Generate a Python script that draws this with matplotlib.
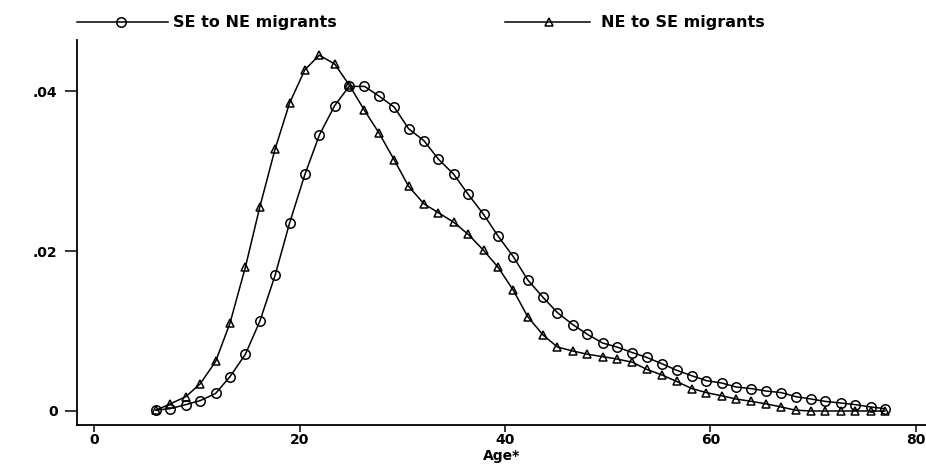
import matplotlib
matplotlib.use("Agg")
import matplotlib.pyplot as plt
from matplotlib.lines import Line2D

# Age* values (x) shared by both series
ages = [6.0, 7.4, 8.9, 10.3, 11.8, 13.2, 14.7, 16.1, 17.6, 19.0,
        20.5, 21.9, 23.4, 24.8, 26.3, 27.7, 29.2, 30.6, 32.1, 33.5,
        35.0, 36.4, 37.9, 39.3, 40.8, 42.2, 43.7, 45.1, 46.6, 48.0,
        49.5, 50.9, 52.4, 53.8, 55.3, 56.7, 58.2, 59.6, 61.1, 62.5,
        64.0, 65.4, 66.9, 68.3, 69.8, 71.2, 72.7, 74.1, 75.6, 77.0]

se_to_ne = [0.0001, 0.0003, 0.0008, 0.0013, 0.0022, 0.0043, 0.0071, 0.0112, 0.0170, 0.0235,
            0.0296, 0.0345, 0.0382, 0.0406, 0.0406, 0.0394, 0.0380, 0.0353, 0.0338, 0.0315,
            0.0296, 0.0271, 0.0246, 0.0219, 0.0193, 0.0164, 0.0142, 0.0123, 0.0108, 0.0096,
            0.0085, 0.0080, 0.0073, 0.0067, 0.0059, 0.0051, 0.0044, 0.0038, 0.0035, 0.0030,
            0.0028, 0.0025, 0.0023, 0.0018, 0.0015, 0.0012, 0.0010, 0.0008, 0.0005, 0.0003]

ne_to_se = [0.0001, 0.0009, 0.0018, 0.0034, 0.0062, 0.0110, 0.0180, 0.0255, 0.0328, 0.0385,
            0.0427, 0.0445, 0.0434, 0.0408, 0.0376, 0.0348, 0.0314, 0.0281, 0.0259, 0.0248,
            0.0236, 0.0221, 0.0201, 0.0180, 0.0151, 0.0118, 0.0095, 0.0080, 0.0075, 0.0071,
            0.0068, 0.0065, 0.0061, 0.0052, 0.0045, 0.0037, 0.0028, 0.0023, 0.0019, 0.0015,
            0.0012, 0.0009, 0.0005, 0.0001, 0.0000, 0.0000, 0.0000, 0.0000, 0.0000, 0.0000]

series_labels = ["SE to NE migrants", "NE to SE migrants"]
x_ticks = [0, 20, 40, 60, 80]
x_ticklabels = ["0", "20", "40", "60", "80"]
y_ticks = [0, 0.02, 0.04]
y_ticklabels = ["0", ".02", ".04"]
x_label = "Age*"

plt.rcParams['font.family'] = ['DejaVu Sans']
plt.rcParams['font.weight'] = 'bold'

fig = plt.figure(figsize=(9.26, 4.68), dpi=100)
ax = fig.add_axes([0.0832, 0.0919, 0.9168, 0.8226])

mk = dict(markerfacecolor='none', markeredgecolor='black', markeredgewidth=1.1)
ax.plot(ages, se_to_ne, color='black', lw=1.1, marker='o', markersize=6.8, **mk)
ax.plot(ages, ne_to_se, color='black', lw=1.1, marker='^', markersize=6.2, **mk)

ax.set_xlim(-1.7, 81.0)
ax.set_ylim(-0.00175, 0.0464)
ax.set_xticks(x_ticks)
ax.set_xticklabels(x_ticklabels)
ax.set_yticks(y_ticks)
ax.set_yticklabels(y_ticklabels)
ax.tick_params(axis='x', direction='out', length=5, width=1.1, labelsize=10, pad=1)
ax.tick_params(axis='y', direction='out', length=9, width=1.1, labelsize=10, pad=5)
for lab in ax.get_xticklabels() + ax.get_yticklabels():
    lab.set_fontweight('bold')
for s in ['top', 'right']:
    ax.spines[s].set_visible(False)
for s in ['left', 'bottom']:
    ax.spines[s].set_linewidth(1.3)
ax.set_xlabel(x_label, fontsize=10, fontweight='bold', labelpad=1)

# Legend drawn above the plot
W, H = 926.0, 468.0
ly = 1 - 22 / H
entries = [(77, 168, 121, 'o', 6.8, 173, series_labels[0]),
           (505, 590, 549, '^', 6.2, 601, series_labels[1])]
for x0, x1, xm, m, ms, xt, lab in entries:
    fig.add_artist(Line2D([x0 / W, x1 / W], [ly, ly], color='black', lw=1.1,
                          transform=fig.transFigure))
    fig.add_artist(Line2D([xm / W], [ly], marker=m, markersize=ms, color='black',
                          transform=fig.transFigure, **mk))
    fig.text(xt / W, ly, lab, fontsize=11.5, fontweight='bold', va='center', ha='left')

fig.savefig("out.png", dpi=100)
